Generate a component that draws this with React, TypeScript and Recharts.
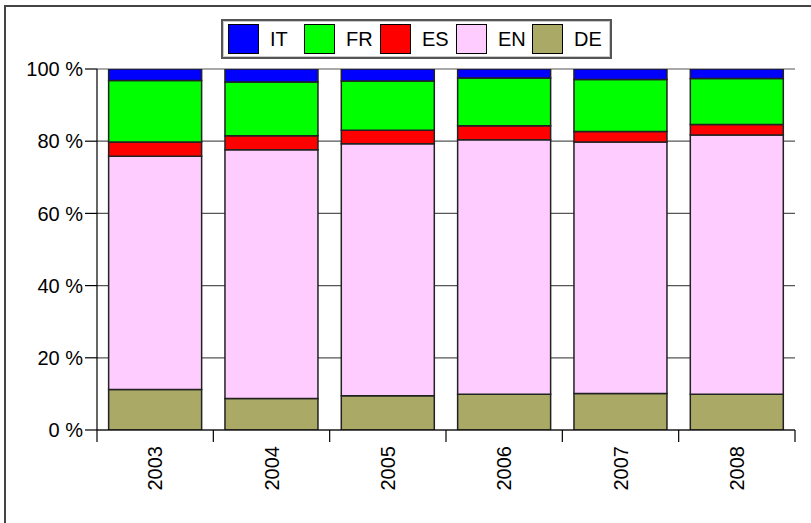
import React from "react";
import { BarChart, Bar, XAxis, YAxis, CartesianGrid } from "recharts";

const years = ["2003", "2004", "2005", "2006", "2007", "2008"];
const de = [11.2, 8.7, 9.5, 9.9, 10.1, 9.9];
const en = [64.6, 68.9, 69.8, 70.5, 69.7, 71.8];
const es = [4.0, 3.9, 3.7, 3.9, 2.9, 2.9];
const fr = [17.0, 14.9, 13.7, 13.2, 14.4, 12.8];
const it = [3.2, 3.6, 3.3, 2.5, 2.9, 2.6];

const yTicks = [0, 20, 40, 60, 80, 100];

// legend order (top of stack first)
const legendKeys = ["IT", "FR", "ES", "EN", "DE"];
const colors: Record<string, string> = {
  IT: "#0000FF",
  FR: "#00FF00",
  ES: "#FF0000",
  EN: "#FFCCFF",
  DE: "#AAAA66",
};

const data = years.map((year, i) => ({
  year,
  DE: de[i],
  EN: en[i],
  ES: es[i],
  FR: fr[i],
  IT: it[i],
}));

const W = 811;
const H = 523;
const Y_W = 97;
const margin = { top: 69, right: 16, bottom: 12, left: 0 };
const band = (W - margin.left - margin.right - Y_W) / years.length;
const FONT = "'Liberation Sans', Arial, sans-serif";

function YearTick(props: any) {
  const { x, y, payload, index } = props;
  const half = band / 2;
  const top = y - 16;
  return (
    <g>
      <line x1={x - half} x2={x - half} y1={top} y2={top + 12} stroke="#000" strokeWidth={1.2} />
      {index === years.length - 1 && (
        <line x1={x + half} x2={x + half} y1={top} y2={top + 12} stroke="#000" strokeWidth={1.2} />
      )}
      <text
        x={x}
        y={y}
        transform={`rotate(-90, ${x}, ${y})`}
        textAnchor="end"
        dy="0.35em"
        fontSize={20}
        fontFamily={FONT}
        fill="#000"
      >
        {payload.value}
      </text>
    </g>
  );
}

function LegendBox() {
  return (
    <div
      style={{
        position: "absolute",
        left: 221,
        top: 19,
        width: 382,
        height: 36,
        border: "2px solid #555",
        boxShadow: "inset 0 0 0 1px #ccc",
        background: "#fff",
        display: "flex",
        alignItems: "center",
        paddingLeft: 5,
        fontFamily: FONT,
        fontSize: 20,
      }}
    >
      {legendKeys.map((k) => (
        <div key={k} style={{ display: "flex", alignItems: "center", width: 76 }}>
          <span
            style={{
              display: "inline-block",
              width: 29,
              height: 28,
              background: colors[k],
              border: "1px solid #000",
              marginRight: 11,
            }}
          />
          <span>{k}</span>
        </div>
      ))}
    </div>
  );
}

export default function App() {
  return (
    <div
      style={{
        position: "absolute",
        left: 0,
        top: 0,
        width: W,
        height: H,
        overflow: "hidden",
        background: "#fff",
      }}
    >
      <div
        style={{
          position: "absolute",
          left: 4,
          top: 5,
          width: W + 20,
          height: H + 20,
          border: "2px solid #444",
        }}
      />
      <div style={{ position: "absolute", left: 0, top: 0 }}>
        <BarChart width={W} height={H} data={data} margin={margin} barCategoryGap="10%">
          <CartesianGrid vertical={false} stroke="#555" strokeWidth={1.2} />
          <XAxis
            dataKey="year"
            height={81}
            interval={0}
            axisLine={{ stroke: "#000", strokeWidth: 1.2 }}
            tickLine={false}
            tickSize={12}
            tickMargin={4}
            tick={<YearTick />}
          />
          <YAxis
            width={Y_W}
            domain={[0, 100]}
            ticks={yTicks}
            allowDataOverflow
            tickFormatter={(v: number) => `${v} %`}
            axisLine={{ stroke: "#000", strokeWidth: 1.2 }}
            tickLine={{ stroke: "#000", strokeWidth: 1.2 }}
            tickSize={12}
            tickMargin={2}
            tick={{ fill: "#000", fontSize: 20, fontFamily: FONT }}
          />
          {["DE", "EN", "ES", "FR", "IT"].map((k) => (
            <Bar
              key={k}
              dataKey={k}
              stackId="a"
              fill={colors[k]}
              stroke="#222"
              strokeWidth={1.5}
              isAnimationActive={false}
            />
          ))}
        </BarChart>
      </div>
      <LegendBox />
    </div>
  );
}
